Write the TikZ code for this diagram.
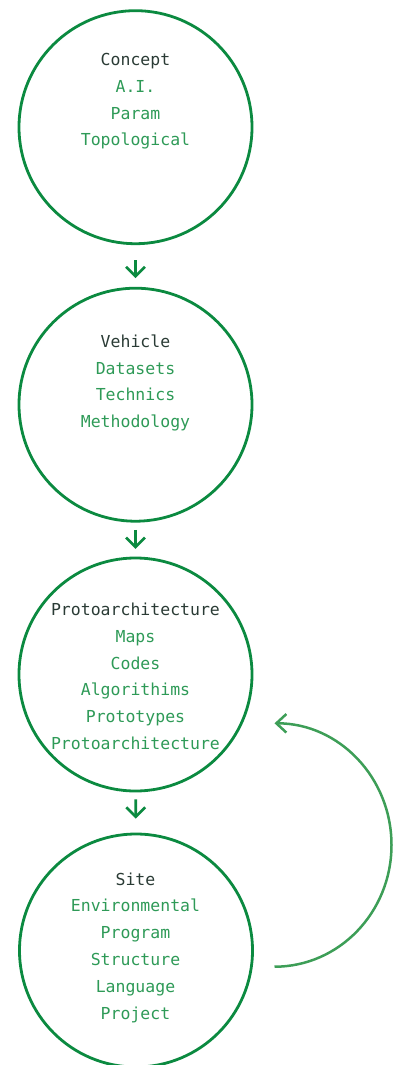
\documentclass[tikz,border=0pt]{standalone}
\usepackage{fontspec}
\setmonofont{DejaVu Sans Mono}
\usetikzlibrary{arrows.meta}
\definecolor{ringgreen}{HTML}{0B8A40}
\definecolor{loopgreen}{HTML}{3D9E57}
\definecolor{headink}{HTML}{2A3B35}
\definecolor{itemink}{HTML}{2E9A57}
\begin{document}
\begin{tikzpicture}[x=1bp,y=1bp,
  ring/.style={circle, draw=ringgreen, line width=2.8bp, minimum size=233bp, inner sep=0pt},
  head/.style={anchor=base, text=headink, inner sep=0pt,
    font=\fontsize{16.5bp}{20bp}\selectfont\ttfamily},
  item/.style={head, text=itemink},
  flow/.style={draw=ringgreen, line width=2.6bp,
    -{Straight Barb[length=9.5bp,width=19bp]}},
  feedback/.style={draw=loopgreen, line width=2.5bp,
    -{Straight Barb[length=10bp,width=18.5bp]}}]
\useasboundingbox (0,0) rectangle (392,-1065);

% the four stages
\node[ring] (c1) at (135.5,-127.2) {};
\node[ring] (c2) at (135.5,-404.7) {};
\node[ring] (c3) at (135.5,-674.5) {};
\node[ring] (c4) at (136,-950.5) {};

% stage texts
\node[head] (c1h) at (135.5,-65.7) {Concept};
\foreach \t [count=\k] in {A.I.,Param,Topological}
  \node[item] (c1i\k) at (135.5,{-65.7-26.7*\k}) {\t};

\node[head] (c2h) at (135.5,-347.3) {Vehicle};
\foreach \t [count=\k] in {Datasets,Technics,Methodology}
  \node[item] (c2i\k) at (135.5,{-347.3-26.7*\k}) {\t};

\node[head] (c3h) at (135.5,-615.7) {Protoarchitecture};
\foreach \t [count=\k] in {Maps,Codes,Algorithims,Prototypes,Protoarchitecture}
  \node[item] (c3i\k) at (135.5,{-615.7-26.75*\k}) {\t};

\node[head] (c4h) at (135.5,-885) {Site};
\foreach \t [count=\k] in {Environmental,Program,Structure,Language,Project}
  \node[item] (c4i\k) at (135.5,{-885-26.8*\k}) {\t};

% downward flow between stages
\draw[flow, shorten <=15bp, shorten >=8.7bp] (c1) -- (c2);
\draw[flow, shorten <=7.3bp, shorten >=7.7bp] (c2) -- (c3);
\draw[flow, shorten <=7bp, shorten >=14bp] (c3) -- (c4);

% feedback from site back to protoarchitecture
\coordinate (loopstart) at (274.5,-966.7);
\draw[feedback] (loopstart) arc[start angle=-90, end angle=90, x radius=117, y radius=121.7] coordinate (loopend);
\end{tikzpicture}
\end{document}
